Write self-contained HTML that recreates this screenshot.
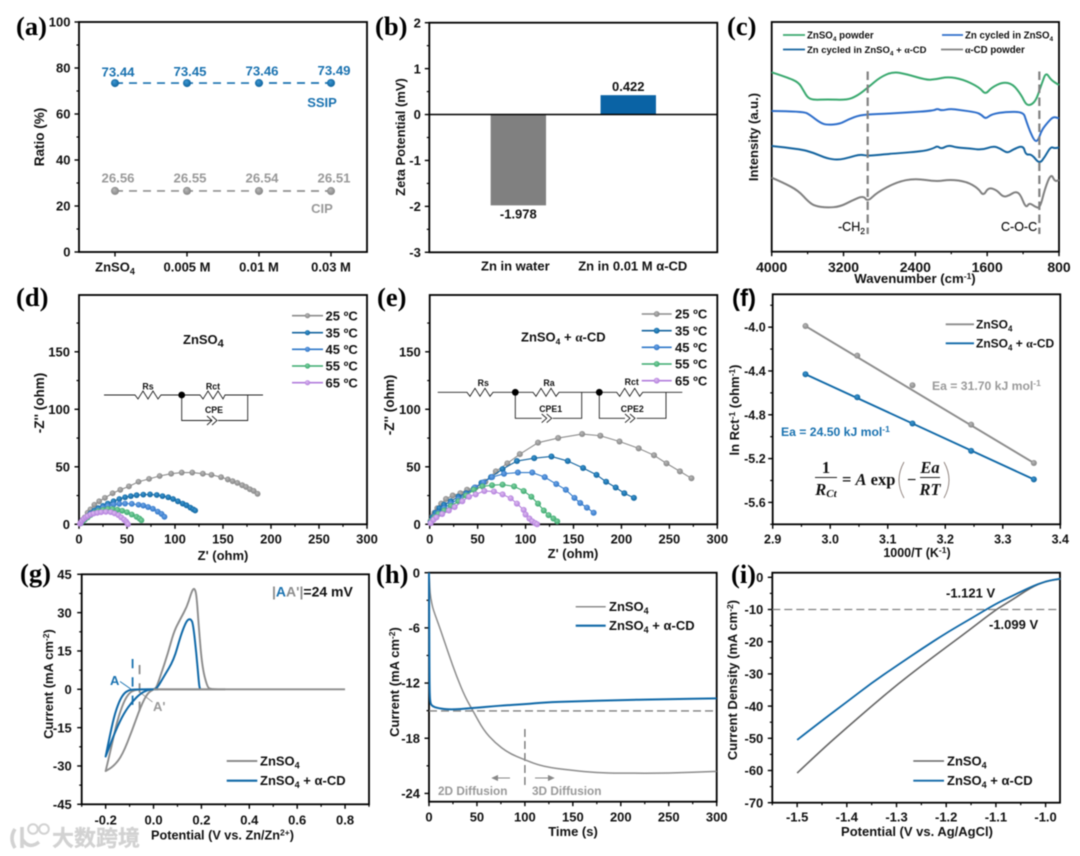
<!DOCTYPE html>
<html lang="en">
<head>
<meta charset="utf-8">
<title>Electrochemical characterisation figure</title>
<style>
html,body{margin:0;padding:0;background:#fff;width:1080px;height:856px;overflow:hidden}
svg{display:block;filter:blur(0.5px)}
text{font-family:"Liberation Sans","Noto Sans CJK SC",sans-serif;font-weight:bold;fill:#111}
.letter{font-family:"Liberation Serif",serif;font-size:26.5px;fill:#000}
.ser{font-family:"Liberation Serif",serif}
.eq{font-family:"Liberation Serif",serif;font-size:16.5px}
</style>
</head>
<body>
<svg id="figure" xmlns="http://www.w3.org/2000/svg" width="1080" height="856" viewBox="0 0 1080 856">
<defs>
<radialGradient id="gGray" cx="50%" cy="50%" r="55%" fx="38%" fy="32%"><stop offset="0" stop-color="#bcbcbc"/><stop offset="1" stop-color="#808080"/></radialGradient>
<radialGradient id="gBlue" cx="50%" cy="50%" r="55%" fx="38%" fy="32%"><stop offset="0" stop-color="#3f9ad6"/><stop offset="1" stop-color="#0c5f98"/></radialGradient>
<radialGradient id="gMid" cx="50%" cy="50%" r="55%" fx="38%" fy="32%"><stop offset="0" stop-color="#74a9ea"/><stop offset="1" stop-color="#2a72c4"/></radialGradient>
<radialGradient id="gGreen" cx="50%" cy="50%" r="55%" fx="38%" fy="32%"><stop offset="0" stop-color="#86d6a6"/><stop offset="1" stop-color="#36a56b"/></radialGradient>
<radialGradient id="gPurple" cx="50%" cy="50%" r="55%" fx="38%" fy="32%"><stop offset="0" stop-color="#e0c0f2"/><stop offset="1" stop-color="#ae78da"/></radialGradient>
</defs>

<!-- panel a -->
<g id="panel-a">
<text class="letter" x="16" y="35">(a)</text>
<text transform="rotate(-90 44 137)" x="44" y="137" text-anchor="middle" font-size="13.5">Ratio (%)</text>
<text x="322" y="107" text-anchor="middle" font-size="13" style="fill:#1a72b0">SSIP</text>
<text x="322" y="213" text-anchor="middle" font-size="13" style="fill:#999">CIP</text>
</g>

<!-- panel b -->
<g id="panel-b">
<text class="letter" x="375" y="35">(b)</text>
<text transform="rotate(-90 405 137)" x="405" y="137" text-anchor="middle" font-size="13">Zeta Potential (mV)</text>
</g>

<!-- panel c -->
<g id="panel-c">
<text class="letter" x="727" y="35">(c)</text>
<text transform="rotate(-90 758 137)" x="758" y="137" text-anchor="middle" font-size="13">Intensity (a.u.)</text>
<text x="915" y="283" text-anchor="middle" font-size="13.2">Wavenumber (cm<tspan dy="-4" font-size="8.5">-1</tspan><tspan dy="4">)</tspan></text>
<line x1="783" y1="35" x2="805" y2="35" stroke="#3aa96f" stroke-width="1.8"/>
<text x="807" y="38.5" font-size="9.7">ZnSO<tspan dy="2.5" font-size="6.5">4</tspan><tspan dy="-2.5"> powder</tspan></text>
<line x1="942" y1="35" x2="963" y2="35" stroke="#2f6fcb" stroke-width="1.8"/>
<text x="965" y="38.5" font-size="9.7">Zn cycled in ZnSO<tspan dy="2.5" font-size="6.5">4</tspan></text>
<line x1="783" y1="49.5" x2="805" y2="49.5" stroke="#14649f" stroke-width="1.8"/>
<text x="807" y="53" font-size="9.5">Zn cycled in ZnSO<tspan dy="2.5" font-size="6.5">4</tspan><tspan dy="-2.5"> + </tspan><tspan class="ser">α</tspan>-CD</text>
<line x1="941" y1="49.5" x2="963" y2="49.5" stroke="#808080" stroke-width="1.8"/>
<text x="965" y="53" font-size="9.7"><tspan class="ser">α</tspan>-CD powder</text>
<text x="838" y="231" font-size="12.5" style="font-weight:normal;stroke:#111;stroke-width:.2">-CH<tspan dy="3" font-size="8.5">2</tspan></text>
<text x="1001" y="231" font-size="12.5" style="font-weight:normal;stroke:#111;stroke-width:.2">C-O-C</text>
</g>

<!-- panel d -->
<g id="panel-d">
<text class="letter" x="16" y="306">(d)</text>
<text transform="rotate(-90 44 403)" x="44" y="403" text-anchor="middle" font-size="13.5">-Z'' (ohm)</text>
<text x="223" y="560" text-anchor="middle" font-size="13">Z' (ohm)</text>
<text x="183" y="344" font-size="13">ZnSO<tspan dy="3" font-size="11">4</tspan></text>
<g fill="none" stroke="#222" stroke-width="0.9">
<path d="M104 395H135l3 4 5-8 5 8 5-8 5 8 3-4H200l3 4 5-8 5 8 5-8 5 8 2-4H263"/>
<path d="M181.7 395V420.5H207M218 420.5H247.7V395"/>
<path d="M207 416l5 4.5-5 4.5M212 416l5 4.5-5 4.5M207 420.5H212"/>
<circle cx="181.7" cy="395" r="3.4" fill="#000" stroke="none"/>
</g>
<text x="148" y="389.5" text-anchor="middle" font-size="8.8">Rs</text>
<text x="213" y="389.5" text-anchor="middle" font-size="8.8">Rct</text>
<text x="214" y="413" text-anchor="middle" font-size="8.8">CPE</text>
<g>
<path d="M292 315.7H323" stroke="#8c8c8c" stroke-width="1.6"/><circle cx="307.5" cy="315.7" r="2.6" fill="url(#gGray)"/>
<path d="M292 332.7H323" stroke="#14649f" stroke-width="1.6"/><circle cx="307.5" cy="332.7" r="2.6" fill="url(#gBlue)"/>
<path d="M292 349.3H323" stroke="#2f78c8" stroke-width="1.6"/><circle cx="307.5" cy="349.3" r="2.6" fill="url(#gMid)"/>
<path d="M292 366H323" stroke="#3aa96f" stroke-width="1.6"/><circle cx="307.5" cy="366" r="2.6" fill="url(#gGreen)"/>
<path d="M292 382.7H323" stroke="#b27ddc" stroke-width="1.6"/><circle cx="307.5" cy="382.7" r="2.6" fill="url(#gPurple)"/>
</g>
<text x="325.5" y="320.5" font-size="13">25 ºC</text>
<text x="325.5" y="337.5" font-size="13">35 ºC</text>
<text x="325.5" y="354" font-size="13">45 ºC</text>
<text x="325.5" y="370.7" font-size="13">55 ºC</text>
<text x="325.5" y="387.5" font-size="13">65 ºC</text>
</g>

<!-- panel e -->
<g id="panel-e">
<text class="letter" x="377" y="306">(e)</text>
<text transform="rotate(-90 394 405)" x="394" y="405" text-anchor="middle" font-size="13.5">-Z'' (ohm)</text>
<text x="573" y="558" text-anchor="middle" font-size="13">Z' (ohm)</text>
<text x="521" y="341.5" font-size="13">ZnSO<tspan dy="3" font-size="8.5">4</tspan><tspan dy="-3"> + </tspan><tspan class="ser">α</tspan>-CD</text>
<g fill="none" stroke="#222" stroke-width="0.9">
<path d="M437.7 392.3H467l3 4 5-8 5 8 5-8 5 8 3-4H533l3 4 5-8 5 8 5-8 5 8 3-4H616.7l3 4 5-8 5 8 5-8 5 8 3-4H682.3"/>
<path d="M515.3 392.3V418.3H541.7M552.7 418.3H581.7V392.3"/>
<path d="M599.3 392.3V418.3H625M636.7 418.3H666V392.3"/>
<path d="M541.7 414l5 4.3-5 4.3M546.7 414l5 4.3-5 4.3M625 414l5 4.3-5 4.3M630 414l5 4.3-5 4.3"/>
<circle cx="515.3" cy="392.3" r="3.4" fill="#000" stroke="none"/>
<circle cx="599.3" cy="392.3" r="3.4" fill="#000" stroke="none"/>
</g>
<text x="483.3" y="386" text-anchor="middle" font-size="8.8">Rs</text>
<text x="549" y="386" text-anchor="middle" font-size="8.8">Ra</text>
<text x="631.7" y="385" text-anchor="middle" font-size="8.8">Rct</text>
<text x="550.7" y="412" text-anchor="middle" font-size="8.8">CPE1</text>
<text x="632.3" y="412" text-anchor="middle" font-size="8.8">CPE2</text>
<g>
<path d="M641.7 314H671.7" stroke="#8c8c8c" stroke-width="1.6"/><circle cx="656.7" cy="314" r="2.9" fill="url(#gGray)"/>
<path d="M641.7 330.7H671.7" stroke="#14649f" stroke-width="1.6"/><circle cx="656.7" cy="330.7" r="2.9" fill="url(#gBlue)"/>
<path d="M641.7 347.3H671.7" stroke="#2f78c8" stroke-width="1.6"/><circle cx="656.7" cy="347.3" r="2.9" fill="url(#gMid)"/>
<path d="M641.7 364H671.7" stroke="#3aa96f" stroke-width="1.6"/><circle cx="656.7" cy="364" r="2.9" fill="url(#gGreen)"/>
<path d="M641.7 380.7H671.7" stroke="#b27ddc" stroke-width="1.6"/><circle cx="656.7" cy="380.7" r="2.9" fill="url(#gPurple)"/>
</g>
<text x="675" y="318.7" font-size="13">25 ºC</text>
<text x="675" y="335.4" font-size="13">35 ºC</text>
<text x="675" y="352" font-size="13">45 ºC</text>
<text x="675" y="368.7" font-size="13">55 ºC</text>
<text x="675" y="385.4" font-size="13">65 ºC</text>
</g>

<!-- panel f -->
<g id="panel-f">
<text class="letter" x="732" y="306" style="font-family:'Liberation Sans',sans-serif;font-size:24px">(f)</text>
<text transform="rotate(-90 739 410)" x="739" y="410" text-anchor="middle" font-size="13">ln Rct<tspan dy="-4" font-size="8.5">-1</tspan><tspan dy="4"> (ohm</tspan><tspan dy="-4" font-size="8.5">-1</tspan><tspan dy="4">)</tspan></text>
<text x="917" y="557" text-anchor="middle" font-size="12.5">1000/T (K<tspan dy="-4" font-size="8.5">-1</tspan><tspan dy="4">)</tspan></text>
<line x1="945.7" y1="324.3" x2="974" y2="324.3" stroke="#8c8c8c" stroke-width="1.9"/>
<text x="976" y="328.5" font-size="12">ZnSO<tspan dy="3" font-size="8">4</tspan></text>
<line x1="945.7" y1="343.3" x2="974" y2="343.3" stroke="#1069a8" stroke-width="1.9"/>
<text x="976" y="347.5" font-size="12">ZnSO<tspan dy="3" font-size="8">4</tspan><tspan dy="-3"> + </tspan><tspan class="ser">α</tspan>-CD</text>
<text x="932" y="390" font-size="12.2" style="fill:#9a9a9a">Ea = 31.70 kJ mol<tspan dy="-4" font-size="8.5">-1</tspan></text>
<text x="781" y="436" font-size="12.2" style="fill:#1a72b0">Ea = 24.50 kJ mol<tspan dy="-4" font-size="8.5">-1</tspan></text>
<g>
<line x1="815" y1="477.5" x2="837" y2="477.5" stroke="#222" stroke-width="0.9"/>
<line x1="920" y1="477.5" x2="940" y2="477.5" stroke="#222" stroke-width="0.9"/>
<path d="M904 462Q894 480 904 498M944 462Q954 480 944 498" fill="none" stroke="#8a7d78" stroke-width="0.9"/>
<text class="eq" x="826" y="473" text-anchor="middle">1</text>
<text class="eq" x="826" y="495" text-anchor="middle" font-style="italic">R<tspan dy="2" font-size="11">Ct</tspan></text>
<text class="eq" x="842" y="485">= <tspan font-style="italic">A</tspan> exp</text>
<text class="eq" x="907" y="485">−</text>
<text class="eq" x="930" y="473" text-anchor="middle" font-style="italic">Ea</text>
<text class="eq" x="930" y="495" text-anchor="middle" font-style="italic">RT</text>
</g>
</g>

<!-- panel g -->
<g id="panel-g">
<text class="letter" x="20" y="582">(g)</text>
<text transform="rotate(-90 53 684)" x="53" y="684" text-anchor="middle" font-size="13">Current (mA cm<tspan dy="-4" font-size="8.5">-2</tspan><tspan dy="4">)</tspan></text>
<text x="151" y="839.5" font-size="12.7">Potential (V vs. Zn/Zn<tspan dy="-4" font-size="8.5">2+</tspan><tspan dy="4">)</tspan></text>
<text x="272" y="596.5" font-size="14"><tspan style="fill:#8c8c8c">|</tspan><tspan style="fill:#1a72b0">A</tspan><tspan style="fill:#8c8c8c">A'|</tspan>=24 mV</text>
<text x="110" y="685" font-size="13" style="fill:#1a72b0">A</text>
<text x="153" y="711" font-size="13" style="fill:#999">A'</text>
<line x1="120" y1="681.5" x2="131.5" y2="689.5" stroke="#1a72b0" stroke-width="0.9"/>
<line x1="139.5" y1="692" x2="152.5" y2="702" stroke="#999" stroke-width="0.9"/>
<line x1="226.7" y1="761" x2="257.3" y2="761" stroke="#8c8c8c" stroke-width="1.9"/>
<text x="260" y="765.5" font-size="13">ZnSO<tspan dy="3" font-size="9">4</tspan></text>
<line x1="226.7" y1="780.7" x2="257.3" y2="780.7" stroke="#1069a8" stroke-width="2.1"/>
<text x="260" y="785" font-size="13">ZnSO<tspan dy="3" font-size="9">4</tspan><tspan dy="-3"> + α-CD</tspan></text>
</g>

<!-- panel h -->
<g id="panel-h">
<text class="letter" x="376" y="583">(h)</text>
<text transform="rotate(-90 399 682)" x="399" y="682" text-anchor="middle" font-size="13">Current (mA cm<tspan dy="-4" font-size="8.5">-2</tspan><tspan dy="4">)</tspan></text>
<text x="573" y="836" text-anchor="middle" font-size="13">Time (s)</text>
<line x1="575.7" y1="606.7" x2="605.7" y2="606.7" stroke="#8c8c8c" stroke-width="1.5"/>
<text x="609" y="611" font-size="13">ZnSO<tspan dy="3" font-size="9">4</tspan></text>
<line x1="575.7" y1="625.7" x2="605.7" y2="625.7" stroke="#1069a8" stroke-width="2.1"/>
<text x="609" y="630" font-size="13">ZnSO<tspan dy="3" font-size="9">4</tspan><tspan dy="-3"> + α-CD</tspan></text>
<text x="438" y="795" font-size="11.8" style="fill:#999">2D Diffusion</text>
<text x="532" y="795" font-size="11.8" style="fill:#999">3D Diffusion</text>
<path d="M510 778H493M498 775.5L492.5 778 498 780.5" fill="#888" stroke="#888" stroke-width="1"/>
<path d="M535 778H553M548 775.5L553.5 778 548 780.5" fill="#888" stroke="#888" stroke-width="1"/>
</g>

<!-- panel i -->
<g id="panel-i">
<text class="letter" x="731" y="583">(i)</text>
<text transform="rotate(-90 737 680)" x="737" y="680" text-anchor="middle" font-size="13">Current Density (mA cm<tspan dy="-4" font-size="8.5">-2</tspan><tspan dy="4">)</tspan></text>
<text x="917" y="836" text-anchor="middle" font-size="13">Potential (V vs. Ag/AgCl)</text>
<text x="946" y="597.5" font-size="13">-1.121 V</text>
<text x="989" y="629" font-size="13">-1.099 V</text>
<line x1="913.3" y1="761" x2="944" y2="761" stroke="#666" stroke-width="1.6"/>
<text x="947" y="765.5" font-size="13">ZnSO<tspan dy="3" font-size="9">4</tspan></text>
<line x1="913.3" y1="780.7" x2="944" y2="780.7" stroke="#1069a8" stroke-width="1.9"/>
<text x="947" y="785" font-size="13">ZnSO<tspan dy="3" font-size="9">4</tspan><tspan dy="-3"> + α-CD</tspan></text>
</g>

<!-- watermark -->
<g id="watermark">
<path d="M15 829Q9 838 15 848M22 827V848M22 839Q29 850 39 842" fill="none" stroke="#d2d2d2" stroke-width="3.6"/>
<circle cx="33" cy="829" r="4.8" fill="none" stroke="#d2d2d2" stroke-width="2"/>
<circle cx="44" cy="829" r="4.8" fill="none" stroke="#d2d2d2" stroke-width="2"/>
<text x="52" y="846" font-size="22" style="fill:#d2d2d2;font-family:'Noto Sans CJK SC',sans-serif;stroke:#d2d2d2;stroke-width:.3">大数跨境</text>
</g>
</svg>

<script>
// ---------- panel (a) data ----------
const aCategories = ['ZnSO', '0.005 M', '0.01 M', '0.03 M'];
const aSSIP = [73.44, 73.45, 73.46, 73.49];
const aCIP = [26.56, 26.55, 26.54, 26.51];
const aYMajor = [0, 20, 40, 60, 80, 100];
const aYMinor = [10, 30, 50, 70, 90];

// ---------- panel (b) data ----------
const bCategories = ['Zn in water', 'Zn in 0.01 M α-CD'];
const bValues = [-1.978, 0.422];
const bYMajor = [-3, -2, -1, 0, 1, 2];
const bYMinor = [-2.5, -1.5, -0.5, 0.5, 1.5];

// ---------- panel (c) data: [wavenumber, relative intensity] ----------
const cXMajor = [4000, 3200, 2400, 1600, 800];
const cXMinor = [3600, 2800, 2000, 1200];
const cMarkers = [2931, 1019];
const cPowder = [[4000,538],[3830,523],[3700,508],[3645,483],[3600,462],[3535,455],[3385,457],[3165,455],[3050,467],[2925,493],[2795,523],[2650,540],[2500,533],[2280,515],[2170,517],[2040,525],[1870,517],[1685,493],[1620,471],[1555,492],[1425,509],[1315,503],[1220,470],[1165,440],[1110,440],[1055,455],[1010,490],[990,505],[945,539],[890,515],[800,500]];
const cCycled = [[4000,422],[3647,421],[3573,410],[3462,387],[3388,380],[3239,383],[3146,397],[3016,410],[2831,413],[2497,417],[2200,423],[2155,429],[2107,423],[2014,429],[1903,425],[1717,418],[1661,410],[1617,398],[1550,413],[1383,420],[1197,419],[1168,395],[1123,360],[1068,330],[1030,335],[993,365],[919,390],[863,405],[800,400]];
const cCycledCD = [[4000,317],[3684,308],[3536,297],[3388,280],[3258,275],[3128,283],[3016,292],[2924,287],[2719,293],[2311,301],[2200,310],[2155,317],[2107,308],[2033,320],[1940,312],[1791,310],[1661,305],[1532,317],[1457,310],[1376,295],[1309,307],[1197,319],[1171,290],[1105,293],[1019,263],[956,285],[893,315],[845,310],[800,313]];
const cCDPowder = [[4000,222],[3870,207],[3703,183],[3592,150],[3518,137],[3388,132],[3239,135],[3109,153],[2979,168],[2931,150],[2831,177],[2608,209],[2404,220],[2163,210],[2014,217],[1829,210],[1699,190],[1643,167],[1587,193],[1494,185],[1420,163],[1346,170],[1291,180],[1235,175],[1168,130],[1131,147],[1068,135],[1012,130],[956,190],[889,235],[845,210],[800,215]];

// ---------- panels (d), (e) shared ticks ----------
const nyXMajor = [0, 50, 100, 150, 200, 250, 300];
const nyXMinor = [25, 75, 125, 175, 225, 275];
const nyYMajor = [0, 50, 100, 150];
const nyYMinor = [25, 75, 125, 175];

// ---------- panel (d) data: [Z', -Z''] ----------
const d25 = [[2,1],[4,4],[6,6],[9,10],[12,13],[16,17],[21,20],[27,23],[35,27],[43,30],[52,33],[62,37],[73,39.5],[84,42],[96,44],[107,45],[118,45],[129,44],[138,43],[148,41],[155,39],[160,37.5],[165,36],[170,34],[174,32.5],[178,30.5],[182,29],[186,26.5]];
const d35 = [[2,1],[4,3],[6,5],[9,7],[12,9.5],[16,12],[20,14],[25,16],[30,18],[36,20],[42,22],[48,23.5],[54,24.5],[60,25.3],[67,25.8],[74,26],[81,25.5],[87,24.5],[93,23.5],[98,22],[103,20],[108,18],[112,16.5],[116,14.5],[119,13],[121,12]];
const d45 = [[2,1],[4,3],[6,4.5],[9,6.5],[12,8.5],[16,10.5],[20,12.5],[25,14.5],[30,16],[36,17.2],[42,17.8],[48,18],[55,17.8],[62,17],[67,16.3],[72,15],[77,13.5],[82,11],[86,9],[89,6.5]];
const d55 = [[2,1],[4,2.5],[6,4],[9,6],[12,8],[16,10],[20,11.5],[25,12.5],[30,13.3],[35,13.3],[40,12.7],[45,11.8],[50,10.5],[55,8.5],[60,6.5],[63,5],[65,3.5]];
const d65 = [[1,0.5],[2,1.5],[3,3],[5,4.5],[7,6],[9,7],[12,8.5],[15,9.3],[19,10],[23,10.5],[28,10.8],[33,10.6],[37,9.5],[41,8],[44,6],[47,4],[49,2.5],[50,1.2],[51,0]];

// ---------- panel (e) data: [Z', -Z''] ----------
const e25 = [[1,3],[3,7],[5,10],[8,14],[12,18],[17,22],[24,25],[32,27],[39,30],[48,32],[58,37],[69,46],[81,53],[94,61],[113,71],[134,75],[159,78.5],[178,77],[198,72],[218,66],[234,60],[247,53],[261,46],[273,40]];
const e35 = [[1,2],[3,6],[6,10],[10,14],[15,17],[22,20],[30,24],[38,27],[46,31],[54,36],[64,41],[76,48],[91,55],[109,57.5],[127,59],[144,55],[160,49],[174,43],[184,37],[194,32],[203,27],[213,23]];
const e45 = [[2,3],[5,7],[9,10],[15,14],[22,18],[30,22],[38,26],[47,32],[56,36.5],[65,41],[77.5,44],[92,45],[107,45],[120,41],[132,35],[142,30],[151,23],[157,18.5],[164,14.5],[171,10]];
const e55 = [[2,3],[5,6],[9,9],[15,12],[22,16],[30,20],[38,25],[46,30],[55,33],[65,34],[76,34.5],[88,33],[98,29],[106,24],[113,18],[119,12],[124,8],[129,5],[133,2.5]];
const e65 = [[1,1],[4,4],[7,6],[13,9],[20,12],[26,15],[34,20],[41,24],[48,26],[57,29],[67,28.5],[76,26],[84.5,22.6],[91,18],[98,12.5],[100,8.5],[104,5],[107,2.5],[110,1],[112,0]];

// ---------- panel (f) data: [1000/T, ln(1/Rct)] ----------
const fXMajor = [2.9, 3.0, 3.1, 3.2, 3.3, 3.4];
const fXMinor = [2.95, 3.05, 3.15, 3.25, 3.35];
const fYMajor = [-5.6, -5.2, -4.8, -4.4, -4.0];
const fYMinor = [-5.8, -5.4, -5.0, -4.6, -4.2, -3.8];
const fZnSO4 = [[2.957,-3.99],[3.047,-4.26],[3.143,-4.53],[3.245,-4.89],[3.354,-5.24]];
const fCD = [[2.957,-4.43],[3.047,-4.64],[3.143,-4.88],[3.245,-5.13],[3.354,-5.39]];

// ---------- panel (g) data: [potential, current] ----------
const gXMajor = [-0.2, 0, 0.2, 0.4, 0.6, 0.8];
const gXMinor = [-0.3, -0.1, 0.1, 0.3, 0.5, 0.7, 0.9];
const gYMajor = [-45, -30, -15, 0, 15, 30, 45];
const gYMinor = [-37.5, -22.5, -7.5, 7.5, 22.5, 37.5];
const gMarkA = -0.0875;
const gMarkAPrime = -0.0583;
const gZnSO4 = [[0.3,0],[0,0],[-0.04,0],[-0.082,-0.3],[-0.103,-1.6],[-0.124,-4.8],[-0.151,-12],[-0.179,-23.7],[-0.2,-32],[-0.2,-32],[-0.165,-30],[-0.13,-25.7],[-0.089,-16],[-0.054,-6.8],[-0.026,-1.6],[0,0],[0.012,0.6],[0.03,5.6],[0.06,14],[0.085,22.6],[0.112,27.5],[0.14,32.4],[0.155,37],[0.165,39.3],[0.173,39.3],[0.18,36.5],[0.189,24.5],[0.203,8.9],[0.224,1],[0.238,0],[0.3,0]];
const gCD = [[0.02,0],[-0.07,0],[-0.103,-0.3],[-0.124,-1.6],[-0.144,-4.8],[-0.165,-10.7],[-0.186,-19.8],[-0.2,-26.3],[-0.2,-26.3],[-0.158,-16],[-0.124,-9.4],[-0.089,-4.8],[-0.054,-1.6],[-0.026,-0.3],[0,0],[0.015,0.4],[0.043,5],[0.085,11.5],[0.112,20.6],[0.133,25.8],[0.145,27.4],[0.156,27.4],[0.165,25.8],[0.179,14],[0.19,2],[0.193,0.4],[0.196,0]];

// ---------- panel (h) data: [time, current] ----------
const hXMajor = [0, 50, 100, 150, 200, 250, 300];
const hXMinor = [25, 75, 125, 175, 225, 275];
const hYMajor = [-24, -18, -12, -6, 0];
const hYMinor = [-21, -15, -9, -3];
const hDashY = -15.03;
const hDashT = 100;
const hDashRange = [-17, -23.4];
const hZnSO4 = [[0,0],[0.5,-0.8],[1,-2.2],[2.8,-3.3],[4.5,-4.05],[11.5,-6.05],[20.2,-8.76],[28.9,-11.3],[37.6,-13.5],[46.3,-15.1],[56.7,-17.1],[68.9,-18.5],[82.8,-19.6],[100,-20.36],[119,-21.1],[150,-21.5],[175,-21.75],[200,-21.8],[250,-21.8],[300,-21.6]];
const hCD = [[0,0],[0.2,-5],[0.5,-12],[1,-14],[2.8,-14.5],[9.7,-14.74],[22,-14.9],[44.6,-14.74],[75,-14.45],[100,-14.3],[121,-14.1],[150,-14],[200,-13.84],[250,-13.75],[300,-13.66]];

// ---------- panel (i) data: [potential, current density] ----------
const iXMajor = [-1.5, -1.4, -1.3, -1.2, -1.1, -1.0];
const iXMinor = [-1.55, -1.45, -1.35, -1.25, -1.15, -1.05];
const iYMajor = [-70, -60, -50, -40, -30, -20, -10, 0];
const iYMinor = [-65, -55, -45, -35, -25, -15, -5];
const iDashY = -10;
const iZnSO4 = [[-1.5,-60.8],[-1.45,-53.5],[-1.4,-46.7],[-1.35,-40],[-1.3,-33.5],[-1.25,-27.5],[-1.2,-21.7],[-1.15,-16],[-1.1,-10],[-1.07,-7.3],[-1.03,-3.2],[-1,-1.2],[-0.97,-0.5]];
const iCD = [[-1.5,-50.5],[-1.45,-44.5],[-1.4,-38.7],[-1.35,-32.8],[-1.3,-27.5],[-1.25,-22.3],[-1.2,-17.3],[-1.15,-12.8],[-1.1,-8.2],[-1.07,-6],[-1.03,-3],[-1,-1.2],[-0.97,-0.4]];

// ---------- helpers ----------
const NS = 'http://www.w3.org/2000/svg';
function make(tag, attrs, parent) {
  const el = document.createElementNS(NS, tag);
  for (const k in attrs) el.setAttribute(k, attrs[k]);
  parent.appendChild(el);
  return el;
}
function sx(p, v) { return p.l + (v - p.x0) / (p.x1 - p.x0) * (p.r - p.l); }
function sy(p, v) { return p.b - (v - p.y0) / (p.y1 - p.y0) * (p.b - p.t); }
function toPoints(p, pts) { return pts.map(d => [sx(p, d[0]), sy(p, d[1])]); }
function smoothPath(xy) {
  let s = 'M' + xy[0][0].toFixed(2) + ' ' + xy[0][1].toFixed(2);
  for (let i = 1; i < xy.length - 1; i++) {
    const mx = (xy[i][0] + xy[i + 1][0]) / 2, my = (xy[i][1] + xy[i + 1][1]) / 2;
    s += 'Q' + xy[i][0].toFixed(2) + ' ' + xy[i][1].toFixed(2) + ' ' + mx.toFixed(2) + ' ' + my.toFixed(2);
  }
  const n = xy[xy.length - 1];
  return s + 'L' + n[0].toFixed(2) + ' ' + n[1].toFixed(2);
}
function curve(g, p, pts, color, width) {
  return make('path', { d: smoothPath(toPoints(p, pts)), fill: 'none', stroke: color, 'stroke-width': width, 'stroke-linejoin': 'round' }, g);
}
function straight(g, p, pts, color, width, dash) {
  const el = make('polyline', { points: toPoints(p, pts).map(q => q.join(',')).join(' '), fill: 'none', stroke: color, 'stroke-width': width }, g);
  if (dash) el.setAttribute('stroke-dasharray', dash);
  return el;
}
function markers(g, p, pts, fill, r) {
  pts.forEach(d => {
    const el = make('circle', { cx: sx(p, d[0]), cy: sy(p, d[1]), r: r, fill: fill }, g);
    
    
  });
}
function axes(g, p, c) {
  const box = make('rect', { x: p.l, y: p.t, width: p.r - p.l, height: p.b - p.t, fill: 'none', stroke: '#000', 'stroke-width': 1.8 }, g);
  
  
  (c.xMajor || []).forEach(v => {
    const t = make('line', { x1: sx(p, v), x2: sx(p, v), y1: p.b, y2: p.b + 4.5, stroke: '#000', 'stroke-width': 1.4 }, g);
    
    
    const lab = make('text', { x: sx(p, v), y: c.xLabelY, 'text-anchor': 'middle', 'font-size': c.fs }, g);
    
    
    lab.textContent = v.toFixed(c.xDec || 0);
  });
  (c.xMinor || []).forEach(v => {
    const t = make('line', { x1: sx(p, v), x2: sx(p, v), y1: p.b, y2: p.b + 2.5, stroke: '#000', 'stroke-width': 1.2 }, g);
    
    
  });
  (c.yMajor || []).forEach(v => {
    const t = make('line', { x1: p.l - 4.5, x2: p.l, y1: sy(p, v), y2: sy(p, v), stroke: '#000', 'stroke-width': 1.4 }, g);
    
    
    const lab = make('text', { x: p.l - c.gap, y: sy(p, v) + c.fs * 0.36, 'text-anchor': 'end', 'font-size': c.fs }, g);
    
    
    lab.textContent = v.toFixed(c.yDec || 0);
  });
  (c.yMinor || []).forEach(v => {
    const t = make('line', { x1: p.l - 2.5, x2: p.l, y1: sy(p, v), y2: sy(p, v), stroke: '#000', 'stroke-width': 1.2 }, g);
    
    
  });
}
function nyquist(g, p, pts, color, fill, r) {
  const ln = straight(g, p, pts, color, 1.1);
  
  
  markers(g, p, pts, fill, r);
}

const BLUE = '#1069a8', GRAY = '#8c8c8c';

// ---------- panel a ----------
const pa = { l: 79, r: 367, t: 22, b: 252, x0: -0.5, x1: 3.5, y0: 0, y1: 100 };
const ga = document.getElementById('panel-a');
axes(ga, pa, { yMajor: aYMajor, yMinor: aYMinor, gap: 8.5, fs: 13 });
aCategories.forEach((name, i) => {
  const t = make('line', { x1: sx(pa, i), x2: sx(pa, i), y1: pa.b, y2: pa.b + 4.5, stroke: '#000', 'stroke-width': 1.4 }, ga);
  
  
  const lab = make('text', { x: sx(pa, i), y: 271.5, 'text-anchor': 'middle', 'font-size': 13 }, ga);
  
  
  lab.textContent = name;
  if (i === 0) {
    const sub = make('tspan', { dy: 3, 'font-size': 9 }, lab);
    sub.textContent = '4';
  }
});
const aLineS = straight(ga, pa, aSSIP.map((v, i) => [i, v]), '#1a72b0', 1.7, '8 6');


const aLineC = straight(ga, pa, aCIP.map((v, i) => [i, v]), '#909090', 1.7, '8 6');


markers(ga, pa, aSSIP.map((v, i) => [i, v]), 'url(#gBlue)', 4);
markers(ga, pa, aCIP.map((v, i) => [i, v]), 'url(#gGray)', 4);
aSSIP.forEach((v, i) => {
  const lab = make('text', { x: sx(pa, i) + 3, y: sy(pa, v) - 6.5 - i * 0.5, 'text-anchor': 'middle', 'font-size': 13.2, style: 'fill:#1a72b0' }, ga);
  
  
  lab.textContent = v.toFixed(2);
});
aCIP.forEach((v, i) => {
  const lab = make('text', { x: sx(pa, i) + 3, y: sy(pa, v) - 8.5, 'text-anchor': 'middle', 'font-size': 13.2, style: 'fill:#999' }, ga);
  
  
  lab.textContent = v.toFixed(2);
});

// ---------- panel b ----------
const pb = { l: 429.3, r: 717.3, t: 22.7, b: 252.3, x0: -0.81, x1: 1.81, y0: -3, y1: 2 };
const gb = document.getElementById('panel-b');
axes(gb, pb, { yMajor: bYMajor, yMinor: bYMinor, gap: 8.5, fs: 13 });
const bColors = ['#808080', '#0a63a5'];
bValues.forEach((v, i) => {
  const y0 = sy(pb, 0), yv = sy(pb, v);
  const bar = make('rect', { x: sx(pb, i) - 27.7, y: Math.min(y0, yv), width: 55.4, height: Math.abs(yv - y0), fill: bColors[i] }, gb);
  
  
  const lab = make('text', { x: sx(pb, i), y: v < 0 ? yv + 13 : yv - 4, 'text-anchor': 'middle', 'font-size': 13 }, gb);
  
  
  lab.textContent = v.toFixed(3);
});
const bZero = make('line', { x1: pb.l, x2: pb.r, y1: sy(pb, 0), y2: sy(pb, 0), stroke: '#000', 'stroke-width': 1.5 }, gb);


bCategories.forEach((name, i) => {
  const lab = make('text', { x: sx(pb, i) + (i === 0 ? -3 : 4.5), y: 270.5, 'text-anchor': 'middle', 'font-size': 13 }, gb);
  
  
  lab.textContent = name;
});

// ---------- panel c ----------
const pc = { l: 771.7, r: 1059, t: 22, b: 251.7, x0: 4000, x1: 800, y0: 0, y1: 689 };
const gc = document.getElementById('panel-c');
axes(gc, pc, { xMajor: cXMajor, xMinor: cXMinor, xLabelY: 272, fs: 14 });
const cGreen = curve(gc, pc, cPowder, '#3aa96f', 2);


const cBlue = curve(gc, pc, cCycled, '#2f6fcb', 2);


const cDark = curve(gc, pc, cCycledCD, '#14649f', 2);


const cGray = curve(gc, pc, cCDPowder, '#808080', 2);


cMarkers.forEach(w => {
  const el = make('line', { x1: sx(pc, w), x2: sx(pc, w), y1: 71.5, y2: 234, stroke: '#808080', 'stroke-width': 2.2, 'stroke-dasharray': '8.5 4.5' }, gc);
  
  
});

// ---------- panel d ----------
const pd = { l: 79, r: 367, t: 295, b: 524.3, x0: 0, x1: 300, y0: 0, y1: 199.4 };
const gd = document.getElementById('panel-d');
axes(gd, pd, { xMajor: nyXMajor, xMinor: nyXMinor, yMajor: nyYMajor, yMinor: nyYMinor, xLabelY: 543.7, gap: 9, fs: 13 });
nyquist(gd, pd, d25, GRAY, 'url(#gGray)', 2.9);
nyquist(gd, pd, d35, '#14649f', 'url(#gBlue)', 2.9);
nyquist(gd, pd, d45, '#2f78c8', 'url(#gMid)', 2.9);
nyquist(gd, pd, d55, '#3aa96f', 'url(#gGreen)', 2.9);
nyquist(gd, pd, d65, '#b27ddc', 'url(#gPurple)', 2.9);

// ---------- panel e ----------
const pe = { l: 429.7, r: 717.3, t: 295, b: 524.3, x0: 0, x1: 300, y0: 0, y1: 199.4 };
const ge = document.getElementById('panel-e');
axes(ge, pe, { xMajor: nyXMajor, xMinor: nyXMinor, yMajor: nyYMajor, yMinor: nyYMinor, xLabelY: 543.7, gap: 9, fs: 13 });
nyquist(ge, pe, e25, GRAY, 'url(#gGray)', 3);
nyquist(ge, pe, e35, '#14649f', 'url(#gBlue)', 3);
nyquist(ge, pe, e45, '#2f78c8', 'url(#gMid)', 3);
nyquist(ge, pe, e55, '#3aa96f', 'url(#gGreen)', 3);
nyquist(ge, pe, e65, '#b27ddc', 'url(#gPurple)', 3);

// ---------- panel f ----------
const pf = { l: 772.7, r: 1060.3, t: 294.3, b: 524.3, x0: 2.9, x1: 3.4, y0: -5.8, y1: -3.7 };
const gf = document.getElementById('panel-f');
axes(gf, pf, { xMajor: fXMajor, xMinor: fXMinor, yMajor: fYMajor, yMinor: fYMinor, xDec: 1, yDec: 1, xLabelY: 543.7, gap: 7, fs: 12.5 });
const fLineG = straight(gf, pf, [fZnSO4[0], fZnSO4[4]], '#8c8c8c', 1.9);


const fLineB = straight(gf, pf, [fCD[0], fCD[4]], BLUE, 1.9);


markers(gf, pf, fZnSO4, 'url(#gGray)', 3);
markers(gf, pf, fCD, 'url(#gBlue)', 3);

// ---------- panel g ----------
const pg = { l: 81.7, r: 369, t: 574.3, b: 804.3, x0: -0.3, x1: 0.9, y0: -45, y1: 45 };
const gg = document.getElementById('panel-g');
axes(gg, pg, { xMajor: gXMajor, xMinor: gXMinor, yMajor: gYMajor, yMinor: gYMinor, xDec: 1, xLabelY: 824.7, gap: 10, fs: 13 });
const gMarkB = make('line', { x1: sx(pg, gMarkA), x2: sx(pg, gMarkA), y1: 659, y2: 707, stroke: '#1a72b0', 'stroke-width': 1.8, 'stroke-dasharray': '9.3 9' }, gg);


const gMarkG = make('line', { x1: sx(pg, gMarkAPrime), x2: sx(pg, gMarkAPrime), y1: 665, y2: 712, stroke: '#8c8c8c', 'stroke-width': 1.8, 'stroke-dasharray': '9.3 9' }, gg);


const gLineG = curve(gg, pg, gZnSO4, '#8c8c8c', 1.9);


const gLineB = curve(gg, pg, gCD, BLUE, 2);


const gBase = straight(gg, pg, [[0, 0], [0.8, 0]], '#8c8c8c', 1.9);



// ---------- panel h ----------
const ph = { l: 429, r: 716.7, t: 572.7, b: 801.7, x0: 0, x1: 300, y0: -24.9, y1: 0 };
const gh = document.getElementById('panel-h');
axes(gh, ph, { xMajor: hXMajor, xMinor: hXMinor, yMajor: hYMajor, yMinor: hYMinor, xLabelY: 821.7, gap: 9, fs: 13 });
const hDash = straight(gh, ph, [[0, hDashY], [300, hDashY]], '#808080', 1.3, '8 4');


const hVert = straight(gh, ph, [[hDashT, hDashRange[0]], [hDashT, hDashRange[1]]], '#707070', 1.3, '8 4');


const hLineG = curve(gh, ph, hZnSO4, '#8c8c8c', 1.5);


const hLineB = curve(gh, ph, hCD, BLUE, 2);



// ---------- panel i ----------
const pi = { l: 772.3, r: 1060, t: 572.7, b: 802.7, x0: -1.55, x1: -0.971, y0: -70, y1: 1.43 };
const gi = document.getElementById('panel-i');
axes(gi, pi, { xMajor: iXMajor, xMinor: iXMinor, yMajor: iYMajor, yMinor: iYMinor, xDec: 1, xLabelY: 821.7, gap: 9, fs: 13 });
const iDash = straight(gi, pi, [[-1.55, iDashY], [-0.971, iDashY]], '#808080', 1.3, '8 4');


const iLineG = curve(gi, pi, iZnSO4, '#666', 1.6);


const iLineB = curve(gi, pi, iCD, BLUE, 1.8);


</script>
</body>
</html>
